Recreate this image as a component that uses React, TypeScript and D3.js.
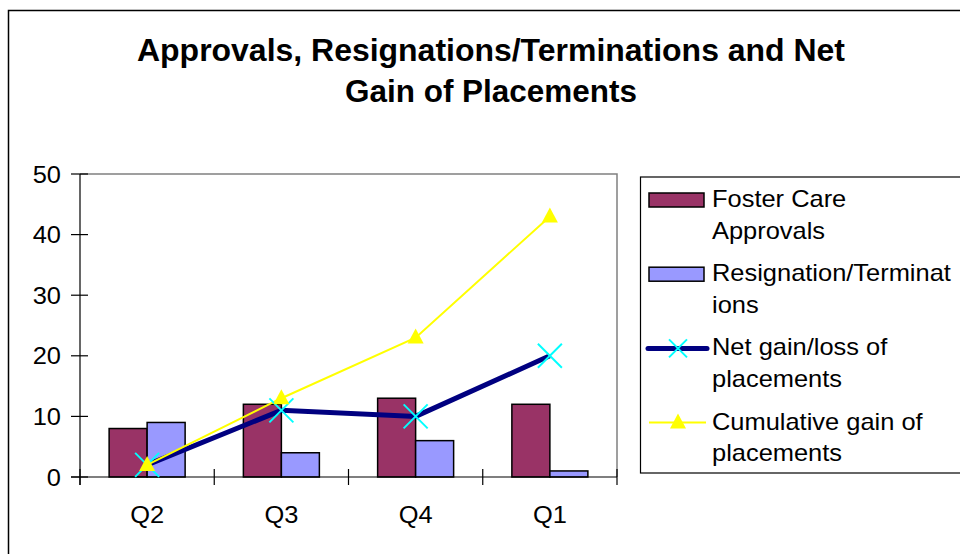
import * as d3 from 'd3';
import React from 'react';

const quarters = ['Q2', 'Q3', 'Q4', 'Q1'];
const approvals = [8, 12, 13, 12];
const resignations = [9, 4, 6, 1];
const netGain = [2, 11, 10, 20];
const cumulative = [2, 13, 23, 43];
const yTicks = [0, 10, 20, 30, 40, 50];

const titleLines = ['Approvals, Resignations/Terminations and Net', 'Gain of Placements'];
const titleWidths = [708, 292];
const legendItems = [
  { lines: ['Foster Care', 'Approvals'], kind: 'bar', color: '#993366' },
  { lines: ['Resignation/Terminat', 'ions'], kind: 'bar', color: '#9999ff' },
  { lines: ['Net gain/loss of', 'placements'], kind: 'net', color: '#000080' },
  { lines: ['Cumulative gain of', 'placements'], kind: 'cum', color: '#ffff00' },
];

const W = 960;
const H = 554;
const plotLeft = 80;
const plotRight = 617;
const plotTop = 174;
const plotBottom = 477;
const font = '"Liberation Sans", Arial, sans-serif';
const sx = 1.06;

// text slightly stretched horizontally, like the reference rendering
function T(props: { x: number; y: number; anchor?: string; children: React.ReactNode }) {
  return (
    <g transform={`translate(${props.x},${props.y}) scale(${sx},1)`}>
      <text textAnchor={props.anchor || 'start'} fontSize={24}>{props.children}</text>
    </g>
  );
}

export default function App() {
  const x = d3.scaleBand().domain(quarters).range([plotLeft, plotRight]).paddingInner(0).paddingOuter(0);
  const y = d3.scaleLinear().domain([0, 50]).range([plotBottom, plotTop]);
  const sub = d3.scaleBand().domain(['a', 'r']).range([0, 76]);
  const groupOffset = (x.bandwidth() - 76) / 2;
  const cx = (q: string) => (x(q) as number) + x.bandwidth() / 2;

  const line = d3.line<number>()
    .x((_, i) => cx(quarters[i]))
    .y((d) => y(d));

  const cross = (px: number, py: number, r: number, key: string) => (
    <g key={key} stroke="#00ffff" strokeWidth={2}>
      <line x1={px - r} y1={py - r} x2={px + r} y2={py + r} />
      <line x1={px - r} y1={py + r} x2={px + r} y2={py - r} />
    </g>
  );
  const tri = (px: number, py: number, key: string) => (
    <path key={key} d={`M${px},${py - 9}L${px + 8},${py + 6}L${px - 8},${py + 6}Z`} fill="#ffff00" />
  );

  return (
    <svg width={W} height={H} style={{ position: 'absolute', left: 0, top: 0, background: '#fff' }} fontFamily={font}>
      <rect x={8.5} y={10.5} width={W + 10} height={H + 10} fill="#fff" stroke="#000" strokeWidth={1.5} />

      {titleLines.map((t, i) => (
        <text key={t} x={491} y={61 + i * 41} textAnchor="middle" fontWeight="bold" fontSize={31}
          textLength={titleWidths[i]} lengthAdjust="spacingAndGlyphs">{t}</text>
      ))}

      {/* plot frame */}
      <path d={`M${plotLeft},${plotTop}H${plotRight}V${plotBottom}`} fill="none" stroke="#808080" strokeWidth={1.5} />

      {/* bars */}
      {quarters.map((q, i) => (
        <g key={q} stroke="#000" strokeWidth={1.5}>
          <rect x={(x(q) as number) + groupOffset + (sub('a') as number)} y={y(approvals[i])}
            width={sub.bandwidth()} height={plotBottom - y(approvals[i])} fill="#993366" />
          <rect x={(x(q) as number) + groupOffset + (sub('r') as number)} y={y(resignations[i])}
            width={sub.bandwidth()} height={plotBottom - y(resignations[i])} fill="#9999ff" />
        </g>
      ))}

      {/* axes */}
      <line x1={plotLeft} y1={plotTop} x2={plotLeft} y2={plotBottom + 8} stroke="#000" strokeWidth={1.2} />
      <line x1={plotLeft - 9} y1={plotBottom} x2={plotRight} y2={plotBottom} stroke="#000" strokeWidth={1.2} />
      {yTicks.map((t) => (
        <g key={t}>
          <line x1={plotLeft - 9} x2={plotLeft + 8} y1={y(t)} y2={y(t)} stroke="#000" strokeWidth={1.2} />
          <T x={61} y={y(t) + 8.5} anchor="end">{t}</T>
        </g>
      ))}
      {[...quarters.map((q) => x(q) as number), plotRight].map((v, i) => (
        <line key={i} x1={v} x2={v} y1={plotBottom - 8} y2={plotBottom + 8} stroke="#000" strokeWidth={1.2} />
      ))}
      {quarters.map((q) => (
        <T key={q} x={cx(q)} y={523} anchor="middle">{q}</T>
      ))}

      {/* lines */}
      <path d={line(netGain) as string} fill="none" stroke="#000080" strokeWidth={5} />
      <path d={line(cumulative) as string} fill="none" stroke="#ffff00" strokeWidth={2} />
      {netGain.map((v, i) => cross(cx(quarters[i]), y(v), 12, 'n' + i))}
      {cumulative.map((v, i) => tri(cx(quarters[i]), y(v), 'c' + i))}

      {/* legend */}
      <rect x={640.5} y={177} width={340} height={296} fill="#fff" stroke="#000" strokeWidth={1.2} />
      {legendItems.map((it, i) => {
        const base = 207 + i * 74.2;
        const my = base - 7;
        return (
          <g key={i}>
            {it.kind === 'bar' && (
              <rect x={649} y={my - 7} width={55} height={14} fill={it.color} stroke="#000" strokeWidth={1.5} />
            )}
            {it.kind === 'net' && (
              <>
                <line x1={648} x2={707} y1={my} y2={my} stroke={it.color} strokeWidth={5} strokeLinecap="round" />
                {cross(678, my, 9, 'ln')}
              </>
            )}
            {it.kind === 'cum' && (
              <>
                <line x1={649} x2={706} y1={my} y2={my} stroke={it.color} strokeWidth={2} />
                {tri(678, my, 'lc')}
              </>
            )}
            {it.lines.map((l, j) => (
              <T key={j} x={712} y={base + j * 31.5}>{l}</T>
            ))}
          </g>
        );
      })}
    </svg>
  );
}
